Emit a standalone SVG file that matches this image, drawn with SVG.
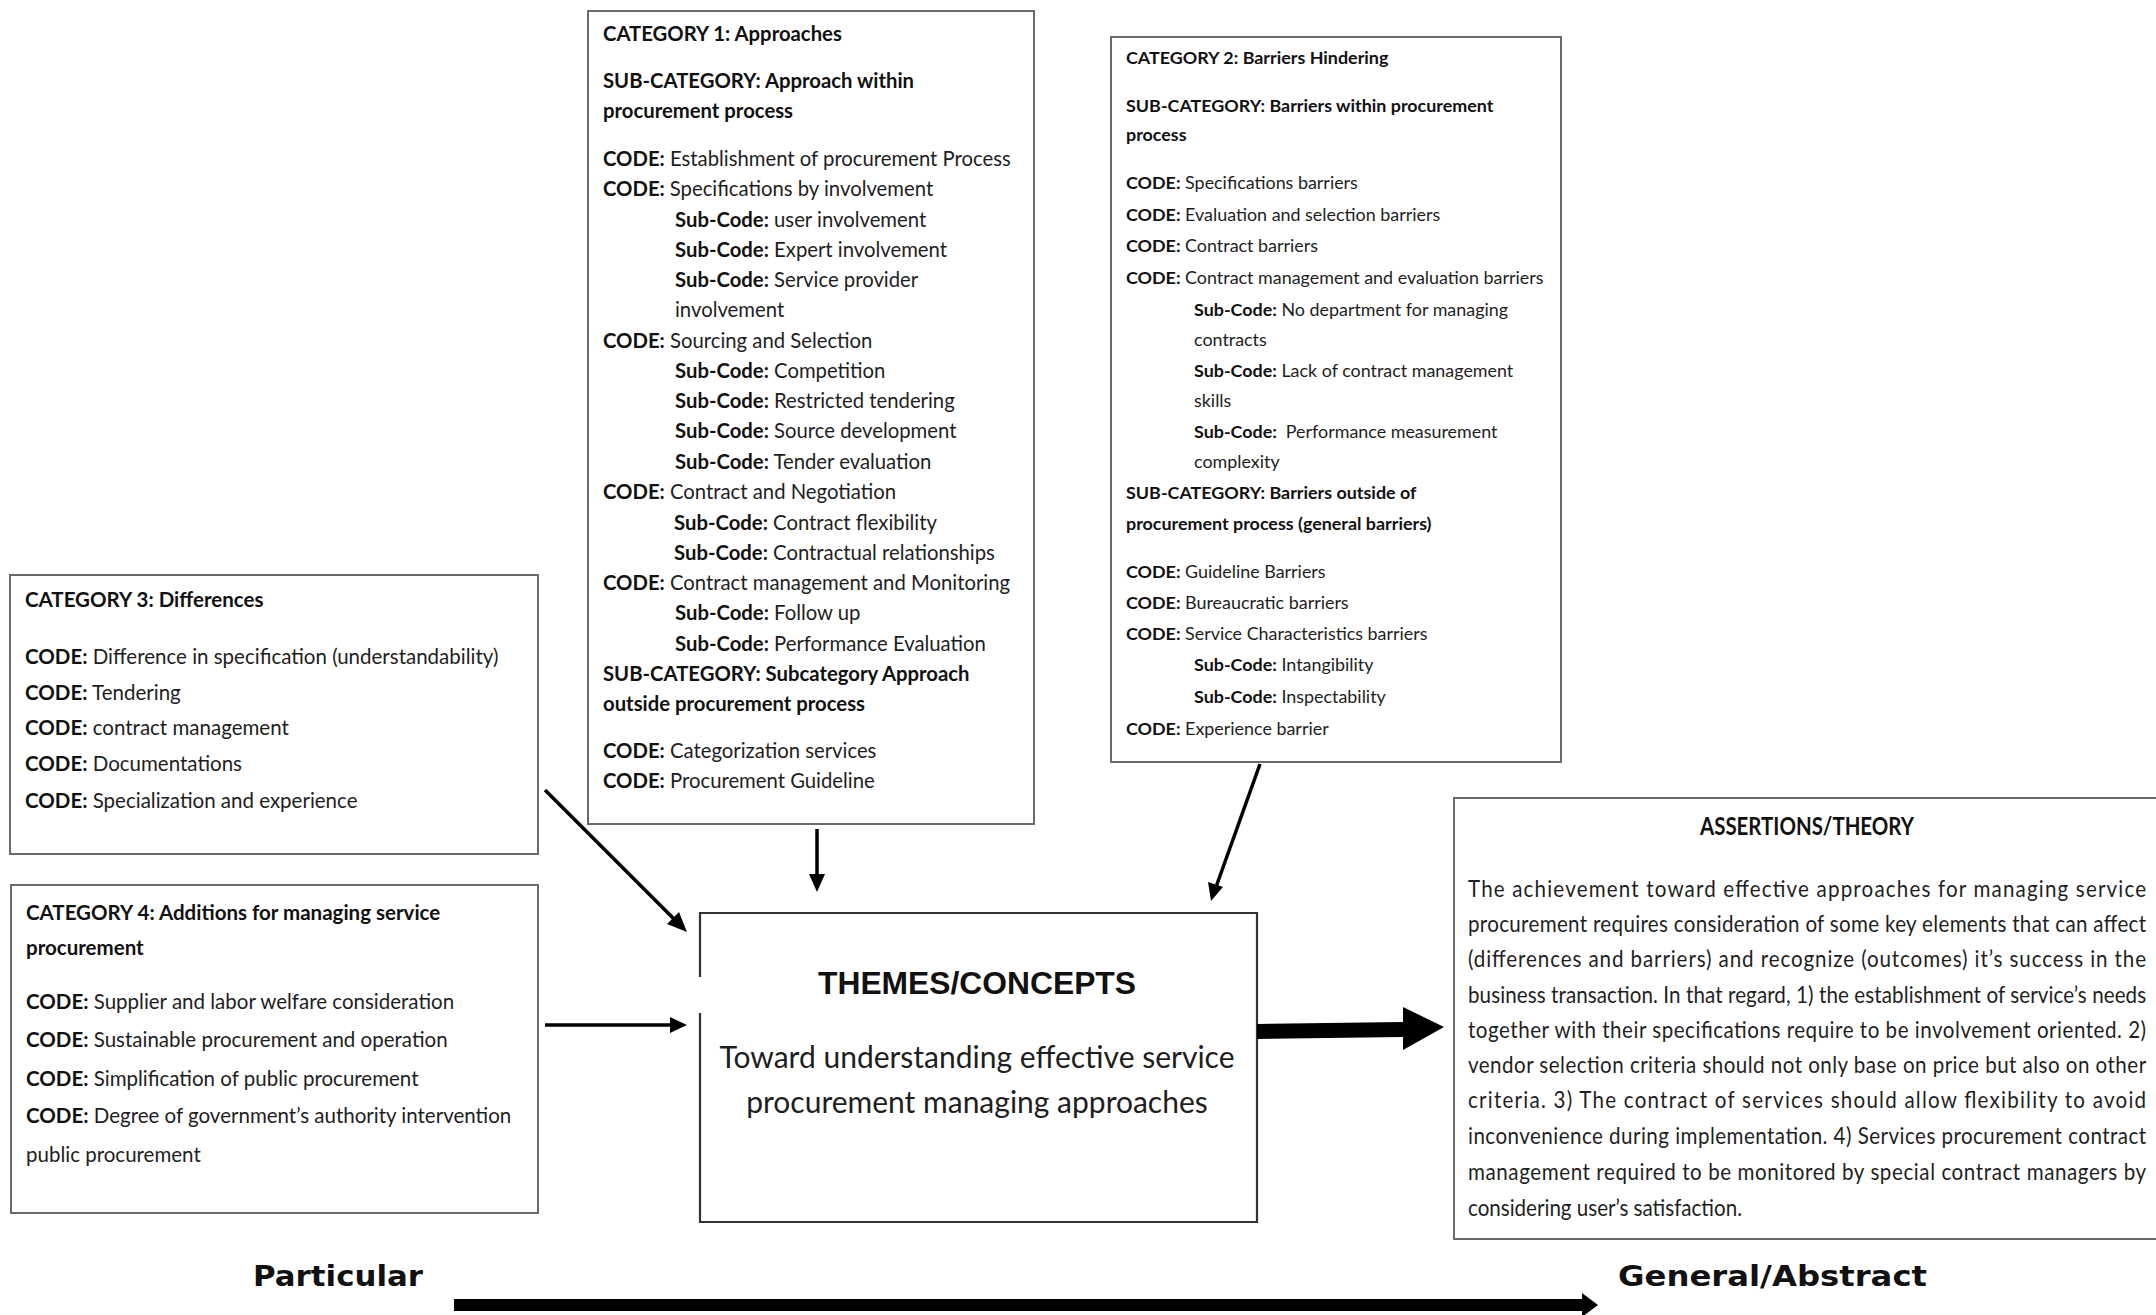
<svg xmlns="http://www.w3.org/2000/svg" width="2156" height="1315" viewBox="0 0 2156 1315">
  <style>
    .box { fill: #ffffff; stroke: #6a6a6a; stroke-width: 2; }
    .frame { fill: none; stroke: #333333; stroke-width: 2.2; }
    .t { font-family: Lato, "Open Sans", "Liberation Sans", sans-serif; fill: #1e1e1e; }
    .c1 { font-size: 20.3px; }
    .c2 { font-size: 17.9px; }
    .c3 { font-size: 20.5px; }
    .b { font-weight: bold; fill: #111111; }
    .wire { stroke: #000000; stroke-width: 3.5; fill: none; }
    .head { fill: #000000; }
    .axis { font-family: "DejaVu Sans", Verdana, sans-serif; font-weight: bold; font-size: 28px; fill: #111111; }
  </style>

  <rect width="2156" height="1315" fill="#ffffff"/>

  <!-- Category 1 -->
  <g id="category-1">
    <rect class="box" x="588" y="11" width="446" height="813"/>
    <g class="t c1">
      <text x="603" y="41" class="b">CATEGORY 1: Approaches</text>
      <text x="603" y="88" class="b">SUB-CATEGORY: Approach within</text>
      <text x="603" y="118" class="b">procurement process</text>
      <text x="603" y="166"><tspan class="b">CODE:</tspan> Establishment of procurement Process</text>
      <text x="603" y="196"><tspan class="b">CODE:</tspan><tspan dx="5">Specifications by involvement</tspan></text>
      <text x="675" y="227"><tspan class="b">Sub-Code:</tspan> user involvement</text>
      <text x="675" y="257"><tspan class="b">Sub-Code:</tspan> Expert involvement</text>
      <text x="675" y="287"><tspan class="b">Sub-Code:</tspan> Service provider</text>
      <text x="675" y="317">involvement</text>
      <text x="603" y="348"><tspan class="b">CODE:</tspan> Sourcing and Selection</text>
      <text x="675" y="378"><tspan class="b">Sub-Code:</tspan> Competition</text>
      <text x="675" y="408"><tspan class="b">Sub-Code:</tspan> Restricted tendering</text>
      <text x="675" y="438"><tspan class="b">Sub-Code:</tspan> Source development</text>
      <text x="675" y="469"><tspan class="b">Sub-Code:</tspan> Tender evaluation</text>
      <text x="603" y="499"><tspan class="b">CODE:</tspan> Contract and Negotiation</text>
      <text x="674" y="530"><tspan class="b">Sub-Code:</tspan> Contract flexibility</text>
      <text x="674" y="560"><tspan class="b">Sub-Code:</tspan> Contractual relationships</text>
      <text x="603" y="590"><tspan class="b">CODE:</tspan> Contract management and Monitoring</text>
      <text x="675" y="620"><tspan class="b">Sub-Code:</tspan> Follow up</text>
      <text x="675" y="651"><tspan class="b">Sub-Code:</tspan> Performance Evaluation</text>
      <text x="603" y="681" class="b">SUB-CATEGORY: Subcategory Approach</text>
      <text x="603" y="711" class="b">outside procurement process</text>
      <text x="603" y="758"><tspan class="b">CODE:</tspan> Categorization services</text>
      <text x="603" y="788"><tspan class="b">CODE:</tspan> Procurement Guideline</text>
    </g>
  </g>

  <!-- Category 2 -->
  <g id="category-2">
    <rect class="box" x="1111" y="37" width="450" height="725"/>
    <g class="t c2">
      <text x="1126" y="64" class="b">CATEGORY 2: Barriers Hindering</text>
      <text x="1126" y="112" class="b">SUB-CATEGORY: Barriers within procurement</text>
      <text x="1126" y="141" class="b">process</text>
      <text x="1126" y="189"><tspan class="b">CODE:</tspan> Specifications barriers</text>
      <text x="1126" y="221"><tspan class="b">CODE:</tspan> Evaluation and selection barriers</text>
      <text x="1126" y="252"><tspan class="b">CODE:</tspan> Contract barriers</text>
      <text x="1126" y="284"><tspan class="b">CODE:</tspan> Contract management and evaluation barriers</text>
      <text x="1194" y="316"><tspan class="b">Sub-Code:</tspan> No department for managing</text>
      <text x="1194" y="346">contracts</text>
      <text x="1194" y="377"><tspan class="b">Sub-Code:</tspan> Lack of contract management</text>
      <text x="1194" y="407">skills</text>
      <text x="1194" y="438"><tspan class="b">Sub-Code:</tspan><tspan dx="9">Performance measurement</tspan></text>
      <text x="1194" y="468">complexity</text>
      <text x="1126" y="499" class="b">SUB-CATEGORY: Barriers outside of</text>
      <text x="1126" y="530" class="b">procurement process (general barriers)</text>
      <text x="1126" y="578"><tspan class="b">CODE:</tspan> Guideline Barriers</text>
      <text x="1126" y="609"><tspan class="b">CODE:</tspan> Bureaucratic barriers</text>
      <text x="1126" y="640"><tspan class="b">CODE:</tspan> Service Characteristics barriers</text>
      <text x="1194" y="671"><tspan class="b">Sub-Code:</tspan> Intangibility</text>
      <text x="1194" y="703"><tspan class="b">Sub-Code:</tspan> Inspectability</text>
      <text x="1126" y="735"><tspan class="b">CODE:</tspan> Experience barrier</text>
    </g>
  </g>

  <!-- Category 3 -->
  <g id="category-3">
    <rect class="box" x="10" y="575" width="528" height="279"/>
    <g class="t c3">
      <text x="25" y="607" class="b">CATEGORY 3: Differences</text>
      <text x="25" y="664"><tspan class="b">CODE:</tspan> Difference in specification (understandability)</text>
      <text x="25" y="700"><tspan class="b">CODE:</tspan> Tendering</text>
      <text x="25" y="735"><tspan class="b">CODE:</tspan> contract management</text>
      <text x="25" y="771"><tspan class="b">CODE:</tspan> Documentations</text>
      <text x="25" y="808"><tspan class="b">CODE:</tspan> Specialization and experience</text>
    </g>
  </g>

  <!-- Category 4 -->
  <g id="category-4">
    <rect class="box" x="11" y="885" width="527" height="328"/>
    <g class="t c3">
      <text x="26" y="920" class="b">CATEGORY 4: Additions for managing service</text>
      <text x="26" y="955" class="b">procurement</text>
      <text x="26" y="1009"><tspan class="b">CODE:</tspan> Supplier and labor welfare consideration</text>
      <text x="26" y="1047"><tspan class="b">CODE:</tspan> Sustainable procurement and operation</text>
      <text x="26" y="1086"><tspan class="b">CODE:</tspan> Simplification of public procurement</text>
      <text x="26" y="1123"><tspan class="b">CODE:</tspan> Degree of government’s authority intervention</text>
      <text x="26" y="1162">public procurement</text>
    </g>
  </g>

  <!-- Themes / concepts (left border is broken where the incoming arrows meet it) -->
  <g id="themes">
    <rect x="700" y="913" width="557" height="309" fill="#ffffff"/>
    <path class="frame" d="M700 977 V913 H1257 V1222 H700 V1013"/>
    <text x="977" y="994" text-anchor="middle" font-family="'Liberation Sans', Arial, sans-serif" font-weight="bold" font-size="31.8" fill="#111111">THEMES/CONCEPTS</text>
    <text x="977" y="1068" text-anchor="middle" class="t" font-size="30">Toward understanding effective service</text>
    <text x="977" y="1113" text-anchor="middle" class="t" font-size="30">procurement managing approaches</text>
  </g>

  <!-- Assertions / theory -->
  <g id="assertions">
    <rect class="box" x="1454" y="798" width="720" height="441"/>
    <text x="1807" y="835" text-anchor="middle" class="t b" font-size="25" textLength="214" lengthAdjust="spacingAndGlyphs">ASSERTIONS/THEORY</text>
    <g class="t" font-size="23.5" transform="translate(1468 0) scale(0.875 1)">
      <text x="0" y="897" textLength="775" lengthAdjust="spacing">The achievement toward effective approaches for managing service</text>
      <text x="0" y="932" textLength="775" lengthAdjust="spacing">procurement requires consideration of some key elements that can affect</text>
      <text x="0" y="967" textLength="775" lengthAdjust="spacing">(differences and barriers) and recognize (outcomes) it’s success in the</text>
      <text x="0" y="1003" textLength="775" lengthAdjust="spacing">business transaction. In that regard, 1) the establishment of service’s needs</text>
      <text x="0" y="1038" textLength="775" lengthAdjust="spacing">together with their specifications require to be involvement oriented. 2)</text>
      <text x="0" y="1073" textLength="775" lengthAdjust="spacing">vendor selection criteria should not only base on price but also on other</text>
      <text x="0" y="1108" textLength="775" lengthAdjust="spacing">criteria. 3) The contract of services should allow flexibility to avoid</text>
      <text x="0" y="1144" textLength="775" lengthAdjust="spacing">inconvenience during implementation. 4) Services procurement contract</text>
      <text x="0" y="1180" textLength="775" lengthAdjust="spacing">management required to be monitored by special contract managers by</text>
      <text x="0" y="1216">considering user’s satisfaction.</text>
    </g>
  </g>

  <!-- Connectors -->
  <g id="connectors">
    <!-- category 3 to themes -->
    <line class="wire" x1="545" y1="790" x2="675" y2="920"/>
    <polygon class="head" points="687,932 667,924 679,912"/>
    <!-- category 4 to themes -->
    <line class="wire" x1="545" y1="1025" x2="672" y2="1025"/>
    <polygon class="head" points="687,1025 670,1017 670,1033"/>
    <!-- category 1 to themes -->
    <line class="wire" x1="817" y1="829" x2="817" y2="876"/>
    <polygon class="head" points="817,892 809,874 825,874"/>
    <!-- category 2 to themes -->
    <line class="wire" x1="1260" y1="764" x2="1216" y2="887"/>
    <polygon class="head" points="1211,901 1208,882 1223,887"/>
    <!-- themes to assertions (heavy arrow) -->
    <polygon class="head" points="1257,1024 1403,1022 1403,1007 1444,1027 1403,1050 1403,1037 1257,1039"/>
  </g>

  <!-- Particular to general axis -->
  <g id="axis">
    <text class="axis" x="253" y="1286" textLength="170" lengthAdjust="spacingAndGlyphs">Particular</text>
    <text class="axis" x="1618" y="1286" textLength="309" lengthAdjust="spacingAndGlyphs">General/Abstract</text>
    <polygon class="head" points="454,1299 1582,1299 1582,1293 1598,1305 1582,1317 1582,1311 454,1311"/>
  </g>
</svg>
